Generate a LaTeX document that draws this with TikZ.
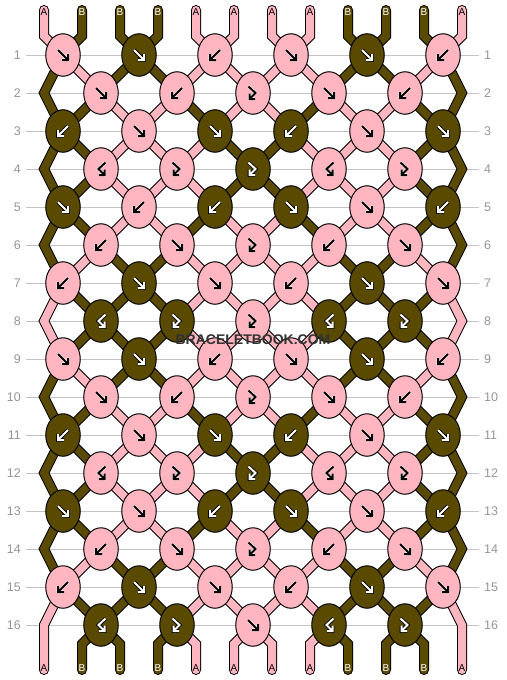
\documentclass[tikz,border=0pt]{standalone}
\usepackage{fontspec}
\setmainfont{Liberation Sans}
\usetikzlibrary{shapes.geometric}
\definecolor{strA}{RGB}{255,182,193}
\definecolor{strB}{RGB}{90,74,0}
\definecolor{knP}{RGB}{255,182,193}
\definecolor{knD}{RGB}{90,74,0}
\definecolor{rowgray}{RGB}{150,150,150}
\definecolor{linegray}{RGB}{195,195,195}
\definecolor{wmark}{RGB}{50,50,50}
\pgfdeclarelayer{grid}\pgfdeclarelayer{sout}\pgfdeclarelayer{sfill}
\pgfsetlayers{grid,sout,sfill,main}

\newcommand\ptname[2]{%
  \pgfmathtruncatemacro\isodd{mod(#1,2)}%
  \ifnum\isodd=1
    \pgfmathtruncatemacro\kk{int((#2+1)/2)}%
    \edef\pn{k-#1-\kk}%
  \else
    \pgfmathtruncatemacro\kk{int(#2/2)}%
    \edef\pn{k-#1-\kk}%
  \fi}

\newcommand\setcc{\ifnum\passmode=0 \def\cc{black}\else\edef\cc{str\c}\fi}

\newcommand\strpass[2]{%
  \def\passmode{#2}%
  % top ends
  \foreach \c [count=\p] in {A,B,B,B,A,A,A,A,B,B,B,A}{%
    \setcc
    \pgfmathtruncatemacro\kk{int((\p+1)/2)}%
    \draw[line width=#1, color=\cc, line cap=round, line join=miter] (t\p) -- (tb\p) -- (k-1-\kk.center);
  }%
  % inner segments
  \foreach \r/\s in {1/{B,A,B,B,A,A,A,A,B,B,A,B},2/{B,B,A,A,B,A,A,B,A,A,B,B},3/{B,B,A,A,A,B,B,A,A,A,B,B},4/{B,B,A,A,A,B,B,A,A,A,B,B},5/{B,B,A,A,B,A,A,B,A,A,B,B},6/{B,A,B,B,A,A,A,A,B,B,A,B},7/{A,B,B,B,A,A,A,A,B,B,B,A},8/{A,B,B,B,A,A,A,A,B,B,B,A},9/{B,A,B,B,A,A,A,A,B,B,A,B},10/{B,B,A,A,B,A,A,B,A,A,B,B},11/{B,B,A,A,A,B,B,A,A,A,B,B},12/{B,B,A,A,A,B,B,A,A,A,B,B},13/{B,B,A,A,B,A,A,B,A,A,B,B},14/{B,A,B,B,A,A,A,A,B,B,A,B},15/{A,B,B,B,A,A,A,A,B,B,B,A}}{%
    \pgfmathtruncatemacro\rn{\r+1}%
    \foreach \c [count=\p] in \s {%
      \ifnum\p>1 \ifnum\p<12
        \setcc
        \ptname{\r}{\p}\let\pa\pn
        \ptname{\rn}{\p}\let\pb\pn
        \draw[line width=#1, color=\cc] (\pa.center) -- (\pb.center);
      \fi\fi
    }%
  }%
  % edge strings
  \foreach \j/\c in {1/B,2/B,3/B,4/A,5/B,6/B,7/B}{%
    \setcc
    \pgfmathtruncatemacro\ra{2*\j-1}%
    \pgfmathtruncatemacro\rb{2*\j}%
    \pgfmathtruncatemacro\rc{2*\j+1}%
    \draw[line width=#1, color=\cc, line join=miter] (k-\ra-1.center) -- (eL-\rb) -- (k-\rc-1.center);
    \draw[line width=#1, color=\cc, line join=miter] (k-\ra-6.center) -- (eR-\rb) -- (k-\rc-6.center);
  }%
  % bottom ends
  \foreach \c [count=\p] in {A,B,B,B,A,A,A,A,B,B,B,A}{%
    \setcc
    \ifnum\p=1
      \draw[line width=#1, color=\cc, line cap=round, line join=miter] (k-15-1.center) -- (eL-16) -- (b\p);
    \else\ifnum\p=12
      \draw[line width=#1, color=\cc, line cap=round, line join=miter] (k-15-6.center) -- (eR-16) -- (b\p);
    \else
      \pgfmathtruncatemacro\kk{int(\p/2)}%
      \draw[line width=#1, color=\cc, line cap=round, line join=miter] (k-16-\kk.center) -- (bb\p) -- (b\p);
    \fi\fi
  }%
}

\newcommand\twodraw[1]{%
  \draw[line width=\hw pt, color=\hc, line join=miter]#1;
  \draw[line width=2pt, color=\ac, line join=miter]#1;}
\newcommand\glyphF{\twodraw{(-5,-5) -- (5,5) (5,-1) -- (5,5) -- (-1,5)}}
\newcommand\glyphB{\twodraw{(5,-5) -- (-5,5) (-5,-1) -- (-5,5) -- (1,5)}}
\newcommand\glyphFB{\twodraw{(-4.5,-6.5) -- (2.5,0) -- (-3.5,6) (-3.5,0.5) -- (-3.5,6) -- (2,6)}}
\newcommand\glyphBF{\twodraw{(4.5,-6.5) -- (-2.5,0) -- (3.5,6) (3.5,0.5) -- (3.5,6) -- (-2,6)}}

\tikzset{
  knot/.style={ellipse, draw=black, line width=1pt, minimum width=34.5pt, minimum height=42.5pt, inner sep=0pt},
  rowlab/.style={inner sep=0pt, text=rowgray, font=\fontsize{12.5pt}{13pt}\selectfont},
  strlab/.style={inner sep=0pt, font=\fontsize{10pt}{10pt}\selectfont},
}

\begin{document}
\begin{tikzpicture}[x=1pt, y=-1pt]
\useasboundingbox (0,0) rectangle (506,680);
\begin{pgfonlayer}{grid}
\fill[white] (0,0) rectangle (506,680);
\end{pgfonlayer}

% row labels and guide lines
\foreach \r in {1,...,16}{
  \pgfmathsetmacro\yy{55+38*(\r-1)}
  \node[rowlab, anchor=east] (rl-\r) at (21,\yy) {\r};
  \node[rowlab, anchor=west] (rr-\r) at (484,\yy) {\r};
  \begin{pgfonlayer}{grid}
  \draw[linegray, line width=1pt] ([xshift=5pt]rl-\r.east) -- ([xshift=-5pt]rr-\r.west);
  \end{pgfonlayer}
}

% coordinates for string ends and edges
\foreach \p in {1,...,12}{
  \pgfmathsetmacro\sx{44+38*(\p-1)}
  \coordinate (t\p) at (\sx,10);
  \coordinate (tb\p) at (\sx,36);
  \coordinate (bb\p) at (\sx,644);
  \coordinate (b\p) at (\sx,670);
}
\foreach \r in {2,4,...,16}{
  \pgfmathsetmacro\yy{55+38*(\r-1)}
  \coordinate (eL-\r) at (44,\yy);
  \coordinate (eR-\r) at (462,\yy);
}

% knots
\foreach \r/\ks in {
 1/{P/F,D/F,P/B,P/F,D/F,P/B},
 2/{P/F,P/B,P/FB,P/F,P/B},
 3/{D/B,P/F,D/F,D/B,P/F,D/F},
 4/{P/BF,P/FB,D/FB,P/BF,P/FB},
 5/{D/F,P/B,D/B,D/F,P/F,D/B},
 6/{P/B,P/F,P/FB,P/B,P/F},
 7/{P/B,D/F,P/F,P/B,D/F,P/F},
 8/{D/BF,D/FB,P/FB,D/BF,D/FB},
 9/{P/F,D/F,P/B,P/F,D/F,P/B},
 10/{P/F,P/B,P/FB,P/F,P/B},
 11/{D/B,P/F,D/F,D/B,P/F,D/F},
 12/{P/BF,P/FB,D/FB,P/BF,P/FB},
 13/{D/F,P/F,D/B,D/F,P/F,D/B},
 14/{P/B,P/F,P/FB,P/B,P/F},
 15/{P/B,D/F,P/F,P/B,D/F,P/F},
 16/{D/BF,D/FB,P/F,D/BF,D/FB}}{
  \pgfmathtruncatemacro\odd{mod(\r,2)}
  \pgfmathsetmacro\yy{55+38*(\r-1)}
  \foreach \col/\ty [count=\i] in \ks {
    \ifnum\odd=1 \pgfmathsetmacro\xx{63+76*(\i-1)}\else\pgfmathsetmacro\xx{101+76*(\i-1)}\fi
    \node[knot, fill=kn\col] (k-\r-\i) at (\xx,\yy) {};
    \if P\col \def\ac{black}\def\hc{white}\def\hw{2.8}\else\def\ac{white}\def\hc{black}\def\hw{3.6}\fi
    \begin{scope}[shift={(\xx,\yy)}]
      \csname glyph\ty\endcsname
    \end{scope}
  }
}

% strings
\begin{pgfonlayer}{sout}
\strpass{10pt}{0}
\end{pgfonlayer}
\begin{pgfonlayer}{sfill}
\strpass{8pt}{1}
\end{pgfonlayer}

% string labels
\foreach \c [count=\p] in {A,B,B,B,A,A,A,A,B,B,B,A}{
  \pgfmathsetmacro\sx{44+38*(\p-1)}
  \if A\c \def\tc{black}\else\def\tc{white}\fi
  \node[strlab, text=\tc] (lt-\p) at (\sx,12) {\c};
  \node[strlab, text=\tc] (lb-\p) at (\sx,668.5) {\c};
}

% watermark
\node[font=\bfseries\fontsize{14pt}{14pt}\selectfont, text=wmark, inner sep=0pt] (wm) at (253,340) {BRACELETBOOK.COM};
\end{tikzpicture}
\end{document}
